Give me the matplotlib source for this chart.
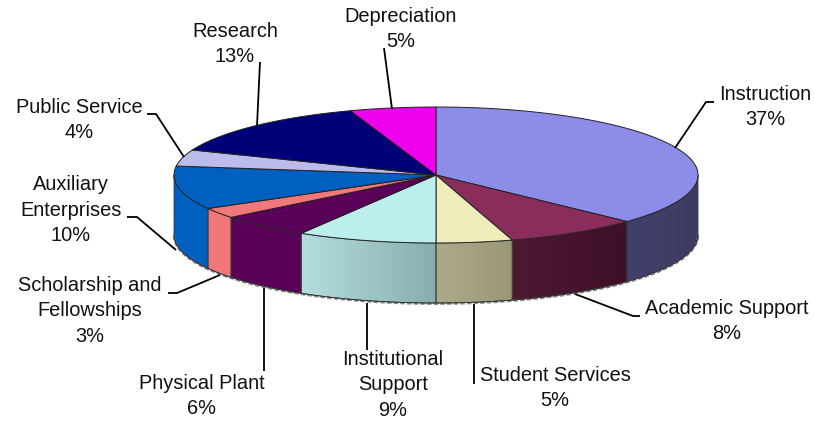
import numpy as np
import matplotlib
matplotlib.use('Agg')
import matplotlib.pyplot as plt
from matplotlib.colors import to_rgb
from matplotlib.patches import Polygon

plt.rcParams['font.family'] = ['Liberation Sans', 'DejaVu Sans']

# slice sizes (the printed labels are rounded)
categories = ['Instruction', 'Academic Support', 'Student Services', 'Institutional\nSupport',
              'Physical Plant', 'Scholarship and\nFellowships', 'Auxiliary\nEnterprises',
              'Public Service', 'Research', 'Depreciation']
values = [37.0, 8.3, 4.7, 8.6, 5.7, 2.5, 10.3, 3.9, 13.7, 5.3]
pct_labels = ['37%', '8%', '5%', '9%', '6%', '3%', '10%', '4%', '13%', '5%']
top_colors = ['#8C8CE9', '#8B2D5C', '#EFECBC', '#BCEEEE', '#5A0058',
              '#F07878', '#0060C0', '#BCBCEC', '#000078', '#EE00EE']
wall_left = ['#40406C', '#4E1833', '#ADAA88', '#B2DEDB', '#5A0058',
             '#F07878', '#0060C0', '#BCBCEC', '#000078', '#EE00EE']
wall_right = ['#3C3C62', '#3E1026', '#9A9878', '#88AEAE', '#5A0058',
              '#F07878', '#0060C0', '#BCBCEC', '#000078', '#EE00EE']

label_x = [765, 727, 555, 393, 202, 90, 71, 79, 235, 401]
label_y = [107, 321, 388, 385, 396, 311, 210, 120, 44, 29]
leader_x = [[675, 706, 714], [575, 633, 640], [474, 474], [367, 367], [264, 264],
            [220, 177, 168], [176, 137, 127], [184, 156, 147], [257, 260], [392, 384]]
leader_y = [[148, 102, 102], [294, 316, 316], [304, 384], [303, 350], [288, 371],
            [275, 293, 293], [250, 217, 217], [157, 114, 114], [126, 62], [109, 48]]

cx, cy = 436, 175
rx, ry = 262, 68
depth = 60


def rim(t):
    return cx + rx * np.sin(t), cy - ry * np.cos(t)


fig = plt.figure(figsize=(8.14, 4.21), dpi=100)
ax = fig.add_axes([0, 0, 1, 1])

edges = np.concatenate([[0], np.cumsum(values)]) / np.sum(values) * 2 * np.pi

# walls: only the front half of the rim shows
for i in range(len(values)):
    t0 = max(edges[i], np.pi / 2)
    t1 = min(edges[i + 1], 3 * np.pi / 2)
    if t1 <= t0:
        continue
    t = np.linspace(t0, t1, 60)
    x, y = rim(t)
    pts = np.r_[np.c_[x, y], np.c_[x[::-1], y[::-1] + depth]]
    poly = Polygon(pts, closed=True, fc='none', ec='none', transform=ax.transData)
    ax.add_patch(poly)
    c0, c1 = np.array(to_rgb(wall_left[i])), np.array(to_rgb(wall_right[i]))
    grad = np.linspace(c0, c1, 64)[None, :, :]
    im = ax.imshow(grad, extent=(x.min(), x.max(), y.max() + depth, y.min()),
                   aspect='auto', zorder=1, interpolation='bilinear')
    im.set_clip_path(poly)
    ax.add_patch(Polygon(pts, closed=True, fc='none', ec='#3a3a3a', lw=0.6, zorder=2))

# soft grey shadow along the lower rim
t = np.linspace(np.pi / 2, 3 * np.pi / 2, 300)
x, y = rim(t)
ax.plot(x, y + depth + 0.8, color='#8a8a8a', lw=1.6, ls=(0, (2, 1)), zorder=1.5)
ax.plot(x, y + depth, color='#333333', lw=0.6, zorder=2)

# top face
for i in range(len(values)):
    t = np.linspace(edges[i], edges[i + 1], 120)
    x, y = rim(t)
    pts = np.r_[[[cx, cy]], np.c_[x, y]]
    ax.add_patch(Polygon(pts, closed=True, fc=top_colors[i], ec='#222222', lw=0.7, zorder=3))

# leader lines and labels
for i in range(len(values)):
    ax.plot(leader_x[i], leader_y[i], color='black', lw=1.3, zorder=4,
            solid_joinstyle='miter', solid_capstyle='butt')
    ax.text(label_x[i], label_y[i], categories[i] + '\n' + pct_labels[i], ha='center', va='center',
            fontsize=14.4, linespacing=1.42, color='#111111', zorder=5)

ax.set_xlim(0, 814)
ax.set_ylim(421, 0)
ax.axis('off')
fig.savefig('out.png', dpi=100, facecolor='white')
